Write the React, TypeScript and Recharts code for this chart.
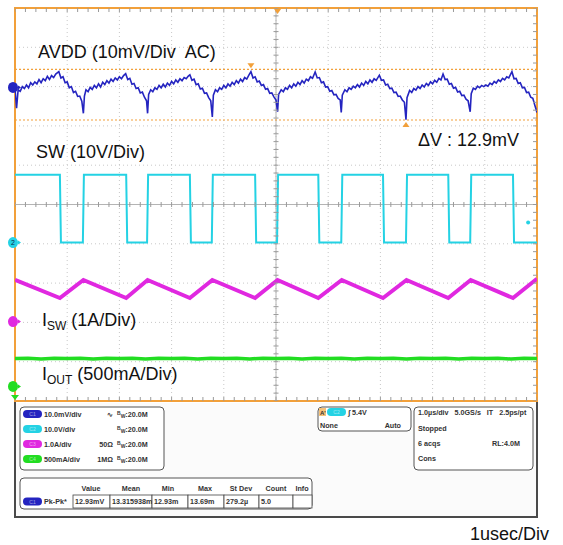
import {
  ComposedChart,
  Line,
  Scatter,
  XAxis,
  YAxis,
  CartesianGrid,
  ReferenceLine,
  ReferenceDot,
  ReferenceArea,
} from "recharts";

// time in µs (1 µs/div, 10 div), level in divisions (-5..5, 0 = screen centre)
const xTicks = [0, 1, 2, 3, 4, 5, 6, 7, 8, 9, 10];
const yTicks = [-5, -4, -3, -2, -1, 0, 1, 2, 3, 4, 5];

// SW edges
const swFall = [0.86, 2.13, 3.35, 4.6, 5.81, 7.05, 8.3, 9.54];
const swRise = [1.3, 2.53, 3.77, 5.02, 6.25, 7.49, 8.72];
const swHigh = 0.76;
const swLow = -0.97;

// inductor current levels (peak at SW rise, trough at SW fall)
const iswPeak = -1.92;
const iswTrough = -2.38;
const iswStart = -1.92;
const iswEnd = -1.89;

// AVDD ripple [t, div]
const avdd: [number, number][] = [
  [0, 2.95], [0.03, 2.45], [0.06, 2.92], [0.1, 2.88], [0.14, 3.0], [0.18, 2.95], [0.22, 3.04],
  [0.26, 2.97], [0.3, 3.1], [0.34, 3.04], [0.38, 3.12], [0.42, 3.07], [0.46, 3.18], [0.5, 3.1],
  [0.54, 3.2], [0.58, 3.15], [0.62, 3.26], [0.66, 3.18], [0.7, 3.28], [0.74, 3.23], [0.78, 3.32],
  [0.84, 3.38],
  [0.88, 3.22], [0.92, 3.25], [0.96, 3.1], [1.0, 3.12], [1.04, 2.97], [1.08, 3.0], [1.12, 2.85],
  [1.16, 2.88], [1.2, 2.75], [1.24, 2.76], [1.28, 2.63], [1.31, 2.32], [1.33, 2.76], [1.36, 2.92],
  [1.4, 2.87], [1.44, 2.98], [1.48, 2.93], [1.52, 3.03], [1.56, 2.97], [1.6, 3.07], [1.64, 2.99],
  [1.68, 3.11], [1.72, 3.05], [1.76, 3.15], [1.8, 3.09], [1.84, 3.19], [1.88, 3.13], [1.92, 3.22],
  [1.96, 3.17], [2.0, 3.25], [2.04, 3.2], [2.08, 3.28], [2.12, 3.33],
  [2.16, 3.18], [2.2, 3.21], [2.24, 3.06], [2.28, 3.08], [2.32, 2.95], [2.36, 2.97], [2.4, 2.84],
  [2.44, 2.86], [2.48, 2.73], [2.52, 2.64], [2.54, 2.32], [2.56, 2.8], [2.6, 2.92],
  [2.64, 2.87], [2.68, 2.97], [2.72, 2.93], [2.76, 3.03], [2.8, 2.97], [2.84, 3.06], [2.88, 2.99],
  [2.92, 3.09], [2.96, 3.03], [3.0, 3.13], [3.04, 3.07], [3.08, 3.17], [3.12, 3.11], [3.16, 3.2],
  [3.2, 3.15], [3.24, 3.23], [3.28, 3.2], [3.32, 3.27], [3.35, 3.3],
  [3.39, 3.16], [3.43, 3.19], [3.47, 3.05], [3.51, 3.07], [3.55, 2.94], [3.59, 2.96], [3.63, 2.83],
  [3.67, 2.84], [3.71, 2.72], [3.75, 2.64], [3.78, 2.23], [3.8, 2.78], [3.84, 2.92],
  [3.88, 2.87], [3.92, 2.97], [3.96, 2.93], [4.0, 3.03], [4.04, 2.97], [4.08, 3.07], [4.12, 3.01],
  [4.16, 3.11], [4.2, 3.05], [4.24, 3.15], [4.28, 3.09], [4.32, 3.19], [4.36, 3.13], [4.4, 3.23],
  [4.44, 3.19], [4.48, 3.29], [4.52, 3.38],
  [4.56, 3.22], [4.6, 3.25], [4.64, 3.12], [4.68, 3.14], [4.72, 3.03], [4.76, 3.05], [4.8, 2.93],
  [4.84, 2.95], [4.88, 2.83], [4.92, 2.84], [4.96, 2.74], [5.0, 2.66], [5.03, 2.36], [5.05, 2.8],
  [5.1, 2.92],
  [5.14, 2.87], [5.18, 2.97], [5.22, 2.93], [5.26, 3.03], [5.3, 2.97], [5.34, 3.07], [5.38, 3.01],
  [5.42, 3.11], [5.46, 3.05], [5.5, 3.15], [5.54, 3.09], [5.58, 3.19], [5.62, 3.15], [5.66, 3.25],
  [5.7, 3.21], [5.75, 3.37],
  [5.79, 3.22], [5.83, 3.23], [5.87, 3.1], [5.91, 3.12], [5.95, 2.99], [5.99, 3.0], [6.03, 2.88],
  [6.07, 2.9], [6.11, 2.79], [6.15, 2.8], [6.19, 2.7], [6.23, 2.66], [6.25, 2.34], [6.27, 2.78],
  [6.32, 2.92],
  [6.36, 2.87], [6.4, 2.97], [6.44, 2.93], [6.48, 3.01], [6.52, 2.97], [6.56, 3.05], [6.6, 2.99],
  [6.64, 3.09], [6.68, 3.03], [6.72, 3.13], [6.76, 3.07], [6.8, 3.17], [6.84, 3.11], [6.88, 3.2],
  [6.92, 3.16], [6.98, 3.29],
  [7.02, 3.16], [7.06, 3.17], [7.1, 3.04], [7.14, 3.06], [7.18, 2.95], [7.22, 2.96], [7.26, 2.85],
  [7.3, 2.86], [7.34, 2.75], [7.38, 2.76], [7.42, 2.66], [7.46, 2.6], [7.49, 2.16], [7.51, 2.72],
  [7.56, 2.9],
  [7.6, 2.85], [7.64, 2.95], [7.68, 2.91], [7.72, 3.0], [7.76, 2.95], [7.8, 3.04], [7.84, 2.99],
  [7.88, 3.08], [7.92, 3.03], [7.96, 3.12], [8.0, 3.07], [8.04, 3.16], [8.08, 3.11], [8.12, 3.21],
  [8.16, 3.17], [8.2, 3.32],
  [8.24, 3.18], [8.28, 3.19], [8.32, 3.06], [8.36, 3.08], [8.4, 2.96], [8.44, 2.98], [8.48, 2.86],
  [8.52, 2.88], [8.56, 2.77], [8.6, 2.78], [8.64, 2.68], [8.68, 2.64], [8.72, 2.36], [8.74, 2.82],
  [8.78, 2.96],
  [8.82, 2.93], [8.86, 3.01], [8.9, 2.97], [8.94, 3.03], [8.98, 3.0], [9.02, 3.04], [9.06, 3.01],
  [9.1, 3.09], [9.14, 3.05], [9.18, 3.13], [9.22, 3.09], [9.26, 3.17], [9.3, 3.13], [9.34, 3.21],
  [9.38, 3.17], [9.42, 3.25], [9.46, 3.22], [9.52, 3.38],
  [9.56, 3.2], [9.6, 3.21], [9.64, 3.08], [9.68, 3.1], [9.72, 2.97], [9.76, 2.98], [9.8, 2.85],
  [9.84, 2.86], [9.88, 2.73], [9.92, 2.7], [9.96, 2.52], [10, 2.34],
];

// output current, flat with a little noise
const iout: [number, number][] = [
  [0, -3.92], [0.25, -3.91], [0.5, -3.93], [0.75, -3.91], [1, -3.92], [1.25, -3.91], [1.5, -3.93],
  [1.75, -3.91], [2, -3.92], [2.25, -3.91], [2.5, -3.93], [2.75, -3.91], [3, -3.92], [3.25, -3.91],
  [3.5, -3.93], [3.75, -3.91], [4, -3.92], [4.25, -3.91], [4.5, -3.93], [4.75, -3.91], [5, -3.92],
  [5.25, -3.91], [5.5, -3.93], [5.75, -3.91], [6, -3.92], [6.25, -3.91], [6.5, -3.93], [6.75, -3.91],
  [7, -3.92], [7.25, -3.91], [7.5, -3.93], [7.75, -3.91], [8, -3.92], [8.25, -3.91], [8.5, -3.93],
  [8.75, -3.91], [9, -3.92], [9.25, -3.91], [9.5, -3.93], [9.75, -3.91], [10, -3.92],
];

// cursors
const cursorHi = 3.44;
const cursorLo = 2.15;

// graticule minor ticks (1/5 div)
const xMinor = Array.from({ length: 51 }, (_, i) => i * 0.2);
const yMinor = Array.from({ length: 51 }, (_, i) => -5 + i * 0.2);

const BLUE = "#2424c0";
const CYAN = "#24d2e4";
const MAGENTA = "#e028e0";
const GREEN = "#22dd22";
const ORANGE = "#f2a03a";
const TICK = "#9a9a9a";

const swData: { t: number; v: number }[] = [{ t: 0, v: swHigh }];
swFall.forEach((f, i) => {
  swData.push({ t: f, v: swHigh }, { t: f + 0.02, v: swLow });
  if (swRise[i] !== undefined) {
    swData.push({ t: swRise[i], v: swLow }, { t: swRise[i] + 0.02, v: swHigh });
  }
});
swData.push({ t: 10, v: swLow });

const iswData: { t: number; v: number }[] = [{ t: 0, v: iswStart }];
swFall.forEach((f, i) => {
  iswData.push({ t: f, v: iswTrough });
  if (swRise[i] !== undefined) iswData.push({ t: swRise[i] + 0.01, v: iswPeak });
});
iswData.push({ t: 10, v: iswEnd });

const avddData = avdd.map(([t, v]) => ({ t, v }));
const ioutData = iout.map(([t, v]) => ({ t, v }));

const midX = xMinor.map((t) => ({ t, v: 0 }));
const topX = xMinor.map((t) => ({ t, v: 5 }));
const botX = xMinor.map((t) => ({ t, v: -5 }));
const midY = yMinor.map((v) => ({ t: 5, v }));
const rightY = yMinor.map((v) => ({ t: 10, v }));

const tickShape = (dx1: number, dy1: number, dx2: number, dy2: number) => (p: any) =>
  (
    <line
      x1={p.cx + dx1}
      y1={p.cy + dy1}
      x2={p.cx + dx2}
      y2={p.cy + dy2}
      stroke={TICK}
      strokeWidth={1}
    />
  );

const chMarker = (fill: string, label: string) => (p: any) =>
  (
    <g>
      <ellipse cx={p.cx - 2} cy={p.cy} rx={5} ry={5.5} fill={fill} />
      <path d={`M${p.cx + 3},${p.cy - 2} L${p.cx + 6},${p.cy} L${p.cx + 3},${p.cy + 2} Z`} fill={fill} />
      {label && (
        <text x={p.cx - 2} y={p.cy + 2.5} fontSize={7} textAnchor="middle" fill="#124" fontFamily="Liberation Sans, Arial">
          {label}
        </text>
      )}
    </g>
  );

const triDown = (p: any) => (
  <path d={`M${p.cx - 3.5},${p.cy - 6} L${p.cx + 3.5},${p.cy - 6} L${p.cx},${p.cy - 1} Z`} fill={ORANGE} />
);
const triUp = (p: any) => (
  <path d={`M${p.cx - 3.5},${p.cy + 7} L${p.cx + 3.5},${p.cy + 7} L${p.cx},${p.cy + 2} Z`} fill={ORANGE} />
);

const PF = "'Liberation Sans Narrow', 'Liberation Sans', Arial, sans-serif";
const LF = "'Liberation Sans', Arial, sans-serif";

function Pill({ x, y, fill, text }: { x: number; y: number; fill: string; text: string }) {
  return (
    <g>
      <rect x={x} y={y - 4} width={19} height={8} rx={4} fill={fill} />
      <text x={x + 9.5} y={y + 2} fontSize={5} textAnchor="middle" fill="#ffffff" opacity={0.55} fontFamily={PF}>
        {text}
      </text>
    </g>
  );
}

const chRows = [
  { c: BLUE, n: "C1", scale: "10.0mV/div", mid: "∿" },
  { c: CYAN, n: "C2", scale: "10.0V/div", mid: "" },
  { c: MAGENTA, n: "C3", scale: "1.0A/div", mid: "50Ω" },
  { c: GREEN, n: "C4", scale: "500mA/div", mid: "1MΩ" },
];

const measHeads = [
  { x: 91, s: "Value" },
  { x: 131, s: "Mean" },
  { x: 168, s: "Min" },
  { x: 205, s: "Max" },
  { x: 241, s: "St Dev" },
  { x: 276, s: "Count" },
  { x: 302, s: "Info" },
];
const measCells = [
  { x0: 73, x1: 110, s: "12.93mV" },
  { x0: 110, x1: 152, s: "13.315938m" },
  { x0: 152, x1: 188, s: "12.93m" },
  { x0: 188, x1: 224, s: "13.69m" },
  { x0: 224, x1: 259, s: "279.2µ" },
  { x0: 259, x1: 293, s: "5.0" },
  { x0: 293, x1: 312, s: "" },
];

function Overlay() {
  const txt = { fontFamily: LF, fill: "#111" } as const;
  const small = { fontFamily: PF, fontSize: 7.2, fontWeight: 700, fill: "#333" } as const;
  return (
    <svg width={563} height={545} style={{ position: "absolute", left: 0, top: 0 }}>
      <text x={38} y={58} fontSize={18} {...txt} style={{ whiteSpace: "pre" }}>
        AVDD (10mV/Div  AC)
      </text>
      <text x={36} y={158} fontSize={18} {...txt}>SW (10V/Div)</text>
      <text x={418} y={146} fontSize={18} {...txt}>ΔV : 12.9mV</text>
      <text x={42} y={326} fontSize={18} {...txt}>
        I<tspan fontSize={12} dy={4}>SW</tspan>
        <tspan dy={-4} fontSize={18}> (1A/Div)</tspan>
      </text>
      <text x={42} y={380} fontSize={18} {...txt}>
        I<tspan fontSize={12} dy={4}>OUT</tspan>
        <tspan dy={-4} fontSize={18}> (500mA/Div)</tspan>
      </text>
      <text x={470} y={540} fontSize={18} {...txt}>1usec/Div</text>

      {/* status panel */}
      <rect x={15} y={403} width={522} height={114} fill="#fbfbfb" />
      <path d="M15,402 L15,517 L537,517 L537,402" fill="none" stroke="#4a4a4a" strokeWidth={2} />

      <rect x={20} y={407} width={144} height={63} rx={4} fill="#ffffff" stroke="#555" strokeWidth={1} />
      {chRows.map((r, i) => {
        const y = 414 + i * 15;
        return (
          <g key={r.n}>
            <Pill x={23} y={y} fill={r.c} text={r.n} />
            <text x={44} y={y + 2.5} {...small}>{r.scale}</text>
            <text x={113} y={y + 2.5} textAnchor="end" {...small}>{r.mid}</text>
            <text x={117} y={y + 2.5} {...small}>
              <tspan fontSize={5} dy={-2}>B</tspan>
              <tspan fontSize={5} dy={3}>W</tspan>
              <tspan dy={-1}>:20.0M</tspan>
            </text>
          </g>
        );
      })}

      <rect x={318} y={407} width={93} height={24} rx={4} fill="#ffffff" stroke="#555" strokeWidth={1} />
      <rect x={319} y={408} width={7} height={8} fill="#f6c27a" />
      <text x={320} y={415} fontSize={6} fontWeight={700} fill="#333" fontFamily={PF}>A'</text>
      <Pill x={327} y={412} fill={CYAN} text="C2" />
      <text x={348} y={414.5} {...small}>∫ 5.4V</text>
      <text x={320} y={428} {...small}>None</text>
      <text x={401} y={428} textAnchor="end" {...small}>Auto</text>

      <rect x={414} y={407} width={119} height={63} rx={4} fill="#ffffff" stroke="#555" strokeWidth={1} />
      <text x={418} y={414.5} {...small} style={{ whiteSpace: "pre" }}>1.0µs/div   5.0GS/s   IT   2.5ps/pt</text>
      <text x={418} y={430.5} {...small}>Stopped</text>
      <text x={418} y={446} {...small}>6 acqs</text>
      <text x={492} y={446} {...small}>RL:4.0M</text>
      <text x={418} y={461} {...small}>Cons</text>

      <rect x={20} y={478} width={292} height={31} rx={4} fill="#ffffff" stroke="#555" strokeWidth={1} />
      {measHeads.map((h) => (
        <text key={h.s} x={h.x} y={491} textAnchor="middle" {...small}>{h.s}</text>
      ))}
      <Pill x={23} y={501.5} fill={BLUE} text="C1" />
      <text x={44} y={504} {...small}>Pk-Pk*</text>
      {measCells.map((c) => (
        <g key={c.x0}>
          <rect x={c.x0} y={495} width={c.x1 - c.x0} height={13} fill="#ffffff" stroke="#444" strokeWidth={0.8} />
          <text x={c.x0 + 2} y={504} {...small}>{c.s}</text>
        </g>
      ))}
    </svg>
  );
}

export default function App() {
  return (
    <div style={{ position: "absolute", left: 0, top: 0, width: 563, height: 545, background: "#ffffff" }}>
      <ComposedChart width={563} height={545} margin={{ top: 8, right: 26, bottom: 144, left: 15 }}>
        <XAxis type="number" dataKey="t" domain={[0, 10]} ticks={xTicks} hide allowDataOverflow />
        <YAxis type="number" dataKey="v" domain={[-5, 5]} ticks={yTicks} hide allowDataOverflow />
        <CartesianGrid stroke="#c8c8c8" strokeDasharray="1 3" />
        <ReferenceLine y={0} stroke="#b4b4b4" strokeWidth={1} />
        <ReferenceLine x={5} stroke="#b4b4b4" strokeWidth={1} />
        <Scatter data={midX} dataKey="v" isAnimationActive={false} shape={tickShape(0, -2.5, 0, 2.5)} />
        <Scatter data={topX} dataKey="v" isAnimationActive={false} shape={tickShape(0, 0, 0, 4)} />
        <Scatter data={botX} dataKey="v" isAnimationActive={false} shape={tickShape(0, -4, 0, 0)} />
        <Scatter data={midY} dataKey="v" isAnimationActive={false} shape={tickShape(-2.5, 0, 2.5, 0)} />
        <Scatter data={rightY} dataKey="v" isAnimationActive={false} shape={tickShape(-4, 0, 0, 0)} />
        <ReferenceLine y={cursorHi} stroke={ORANGE} strokeDasharray="2 2" strokeWidth={1.2} />
        <ReferenceLine y={cursorLo} stroke={ORANGE} strokeDasharray="2 2" strokeWidth={1.2} />
        <Line data={ioutData} dataKey="v" type="linear" stroke={GREEN} strokeWidth={3.5} dot={false} isAnimationActive={false} />
        <Line data={iswData} dataKey="v" type="linear" stroke={MAGENTA} strokeWidth={4} dot={false} isAnimationActive={false} />
        <Line data={swData} dataKey="v" type="linear" stroke={CYAN} strokeWidth={2} dot={false} isAnimationActive={false} />
        <Line data={avddData} dataKey="v" type="linear" stroke={BLUE} strokeWidth={1.6} dot={false} isAnimationActive={false} />
        <ReferenceArea x1={0} x2={10} y1={-5} y2={5} fill="none" stroke={ORANGE} strokeWidth={2} ifOverflow="visible" />
        <ReferenceDot x={4.52} y={cursorHi} r={0} ifOverflow="visible" shape={triDown} />
        <ReferenceDot x={7.49} y={cursorLo} r={0} ifOverflow="visible" shape={triUp} />
        <ReferenceDot x={5.03} y={5} r={0} ifOverflow="visible" shape={(p: any) => triDown({ ...p, cy: p.cy + 7 })} />
        <ReferenceDot x={0} y={2.98} r={0} ifOverflow="visible" shape={chMarker(BLUE, "")} />
        <ReferenceDot x={0} y={swLow} r={0} ifOverflow="visible" shape={chMarker(CYAN, "2")} />
        <ReferenceDot x={0} y={-2.98} r={0} ifOverflow="visible" shape={chMarker(MAGENTA, "")} />
        <ReferenceDot x={0} y={-4.63} r={0} ifOverflow="visible" shape={chMarker(GREEN, "")} />
        <ReferenceDot
          x={0}
          y={-4.9}
          r={0}
          ifOverflow="visible"
          shape={(p: any) => <path d={`M${p.cx - 4},${p.cy - 2} L${p.cx},${p.cy + 3} L${p.cx + 4},${p.cy - 2} Z`} fill={GREEN} />}
        />
        <ReferenceDot x={9.83} y={-0.46} r={2} fill={CYAN} stroke="none" ifOverflow="visible" />
      </ComposedChart>
      <Overlay />
    </div>
  );
}
